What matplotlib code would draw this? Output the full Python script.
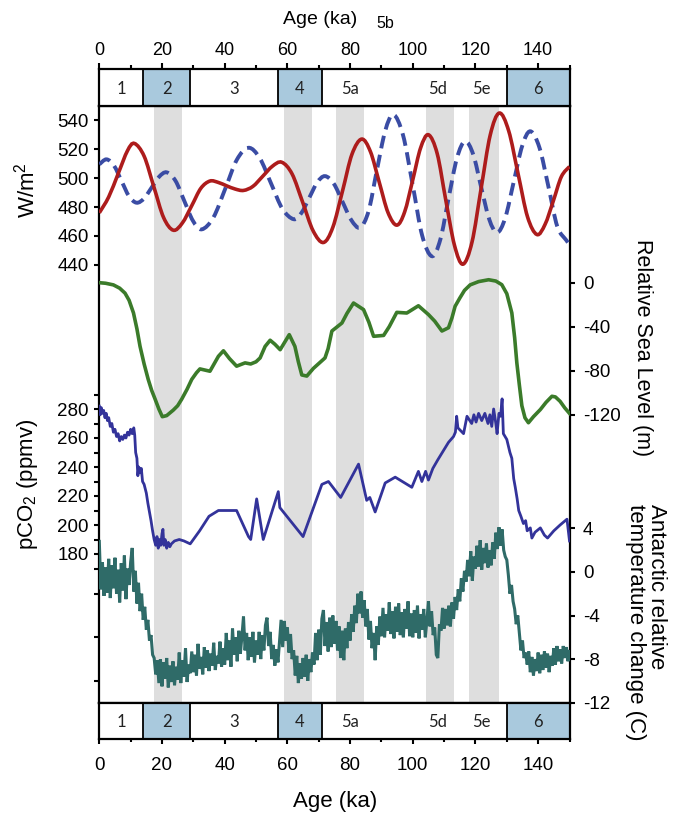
import numpy as np
import matplotlib
matplotlib.use("Agg")
import matplotlib.pyplot as plt
from matplotlib.ticker import MultipleLocator, FixedLocator
from matplotlib.path import Path
from matplotlib.patches import PathPatch

plt.rcParams['font.family'] = ['Liberation Sans', 'DejaVu Sans']
plt.rcParams['axes.unicode_minus'] = False
plt.rcParams['mathtext.fontset'] = 'custom'
plt.rcParams['mathtext.rm'] = 'Liberation Sans'
plt.rcParams['mathtext.it'] = 'Liberation Sans:italic'

# ---------------- data ----------------
# Marine isotope stages
mis_bounds = [0, 14, 29, 57, 71, 130, 150]
mis_shaded = [False, True, False, True, False, True]
mis_labels = ['1', '2', '3', '4', '5a', '5d', '5e', '6']
mis_label_age = [7, 21.5, 43, 64, 80, 108, 122, 140]

# grey bands (ka)
band_start = [17.5, 59, 75.5, 104.3, 118]
band_end = [26.5, 68, 84.5, 113.2, 127.5]

# insolation (W/m2), red solid
ins_red_age = [0, 3, 6, 9, 11.2, 14.3, 17.4, 20.5, 23.6, 26.5, 29.5, 32.4, 35.3, 38, 40.6,
               43.3, 46, 49, 52.1, 55.2, 58.2, 61.5, 64.9, 68.2, 71.5, 74.5, 77.6, 80.6,
               83.7, 86.5, 89.3, 92.1, 94.9, 97.4, 100, 102.5, 105, 107.8, 110.5, 113.3,
               116, 118.9, 121.8, 124.7, 127.6, 130.6, 133.6, 136.6, 139.6, 142.2, 144.8,
               147.4, 150]
ins_red = [476, 487, 503, 519, 524, 515.2, 494, 472.8, 464, 469, 481, 493, 498, 497, 494.7,
           492.5, 491.5, 494.3, 501.2, 508.2, 511, 502.9, 483.2, 463.6, 455.5, 466, 491.2,
           516.5, 527, 518.3, 497.2, 476.2, 467.5, 476.6, 498.8, 520.9, 530, 516.9, 485.2,
           453.6, 440.5, 455.8, 492.8, 529.7, 545, 532.7, 503, 473.3, 461, 468, 484, 501, 508]

# insolation (W/m2), blue dashed
ins_blue_age = [0, 2.3, 4.7, 7.1, 9.5, 11.9, 14.3, 16.7, 19.1, 21.5, 24.3, 27.1, 29.9, 32.7,
                36.4, 40.2, 43.9, 47.6, 51.2, 54.8, 58.4, 62, 64.5, 67, 69.5, 72, 74.8, 77.6,
                80.4, 83.2, 85.9, 88.5, 91.2, 93.8, 96.9, 100, 103, 106.1, 108.8, 111.4,
                114.1, 116.7, 119.3, 121.8, 124.4, 126.9, 129.5, 132.2, 134.9, 137.5, 140.4,
                143.3, 146.1, 149, 150]
ins_blue = [509.5, 513, 508.6, 498, 487.4, 483, 486, 493.5, 501, 504, 498.2, 484.3, 470.4,
            464.6, 472.8, 492.8, 512.8, 521, 513.8, 496.3, 478.8, 471.6, 476, 486.5, 497,
            501.4, 496.2, 483.6, 471, 465.8, 477.2, 504.9, 532.6, 544, 529.7, 495, 460.3,
            446, 457.6, 485.8, 513.9, 525.5, 516.3, 493.9, 471.5, 462.3, 472.5, 497.4, 522.2,
            532.4, 521.2, 493.9, 466.6, 457, 454]

# relative sea level (m)
sl_age = [0, 2, 4.5, 6.5, 8.2, 9.5, 10.9, 12, 13, 14.3, 15.6, 16.7, 17.8, 19, 20.1, 21.5,
          23.6, 25, 26.3, 28, 29.5, 31, 32.1, 35.3, 38, 39.6, 41.5, 43.8, 46.5, 48.3, 50,
          51.3, 52.9, 54.5, 56, 57.7, 60.6, 62.4, 63.5, 64.6, 66.2, 68.3, 72, 73, 74.2,
          77.4, 79, 81.1, 84.3, 86, 87.5, 90.7, 92.5, 94.9, 98.1, 101.8, 105, 107, 109.3,
          111.4, 112.5, 113.5, 115, 116.5, 118.3, 121, 124.2, 126.5, 128.4, 130, 131.6,
          132.5, 133.2, 134, 134.8, 135.8, 136.9, 138.5, 140.7, 142.5, 144.4, 145.5, 147,
          148.5, 150]
sea_level = [0, -0.5, -2, -5, -9.5, -16, -27.5, -42, -58, -74, -88, -98, -106, -115, -122,
             -121, -116, -112, -106, -97, -88, -82, -78.5, -80.6, -67, -62, -69, -76, -73,
             -74, -72, -68.5, -58, -52.4, -56, -61, -47.3, -58, -72, -84, -85, -78, -68.5,
             -60, -44, -36.7, -28, -18.5, -24.5, -36, -48.8, -48, -40, -27, -27.6, -21, -29,
             -35, -44, -41, -32, -21.5, -14, -7, -2, 1, 2.7, 1.5, -1.8, -10, -27.5, -50, -73,
             -93, -112, -123, -127.5, -122, -115.5, -109, -103.4, -104, -108, -114, -119]

# pCO2 (ppmv)
co2_age = [0, 0.3, 0.6, 1, 1.4, 1.8, 2.2, 2.6, 3, 3.5, 4, 4.5, 5, 5.5, 6, 6.5, 7, 7.5, 8,
           8.5, 9, 9.5, 10, 10.5, 11, 11.3, 11.6, 12, 12.3, 12.6, 13, 13.4, 13.8, 14.3, 15,
           15.5, 16, 16.5, 17, 17.5, 18, 18.4, 18.8, 19.2, 19.6, 20, 20.3, 20.6, 21, 21.5,
           22, 22.5, 23, 24, 25.5, 27, 29, 32, 35, 38, 43.8, 47.6, 48.3, 50.2, 52.3, 57.1,
           57.6, 65, 71, 73.1, 77, 82.7, 85.3, 86.3, 88, 91.2, 94.4, 99.7, 101.8, 102.9,
           104.1, 105, 106.4, 108, 111.4, 113, 113.6, 114, 114.4, 116.2, 117.3, 118.8,
           119.5, 120.2, 121, 122, 123, 124, 124.6, 125.2, 125.8, 126.5, 126.9, 127.5, 128,
           128.5, 128.9, 130, 131, 131.6, 132.2, 132.7, 133.3, 133.8, 134.5, 135.3, 136,
           136.5, 137.5, 138, 139, 140.7, 142, 143, 145, 147, 149.2, 150]
co2 = [282, 276, 281, 277, 279, 274, 277, 272, 274, 268, 270, 264, 266, 261, 263, 258, 261,
       259, 262, 260, 264, 262, 266, 263, 267, 262, 250, 246, 234, 240, 236, 239, 230, 228,
       222, 215, 209, 203, 196, 190, 186, 192, 184, 190, 186, 194, 197, 186, 190, 184, 188,
       185, 187, 189, 190, 189, 187, 196, 206, 210, 210, 192, 190, 218, 190, 223, 212, 192,
       228, 230, 219, 242, 217, 219, 209, 229, 233, 226, 237, 230, 237, 231, 239, 245, 257,
       261, 264, 275, 267, 263, 275, 270, 276, 271, 277, 272, 277, 270, 276, 268, 280, 270,
       263, 277, 275, 287, 263, 259, 250, 246, 232, 226, 218, 210, 206, 201, 203, 196, 198,
       191, 195, 198, 193, 191, 196, 200, 204, 189]

# Antarctic relative temperature change (C), every 0.5 ka from 0 to 150 ka
temp_age = np.arange(0, 150.25, 0.5)
temp = [
    2.8, -1.6, 0.9, -2.2, 0.4, -1.9, 1.2, -2.4, 0.6, -1.5,
    1.3, -2.0, 0.2, -2.8, 0.8, -1.7, 1.5, -2.5, 0.3, -1.2,
    0.9, 2.2, -1.8, 0.1, -2.9, -1.0, -3.6, -2.0, -4.4, -3.2,
    -5.3, -4.4, -6.3, -5.8, -7.6, -7.9, -9.4, -8.1, -10.2, -8.0,
    -10.5, -8.3, -9.8, -7.9, -10.6, -8.6, -10.1, -8.2, -10.4, -8.7,
    -9.9, -7.4, -10.2, -8.1, -9.6, -7.0, -10.1, -8.5, -9.3, -7.3,
    -9.2, -7.6, -9.5, -6.6, -8.9, -7.8, -9.4, -6.9, -8.8, -7.2,
    -9.1, -7.5, -8.6, -6.5, -9.0, -7.7, -8.4, -6.4, -8.7, -7.0,
    -8.5, -5.6, -8.1, -6.3, -8.7, -5.2, -7.6, -6.0, -8.2, -5.4,
    -7.5, -5.9, -4.1, -7.2, -5.6, -8.1, -6.0, -7.8, -5.5, -8.3,
    -6.3, -7.6, -5.5, -8.0, -5.8, -7.2, -4.9, -4.2, -6.8, -5.5,
    -8.0, -6.7, -8.6, -7.1, -8.3, -6.4, -4.4, -6.9, -4.5, -6.3,
    -5.1, -7.4, -5.7, -8.0, -7.2, -9.5, -7.7, -10.2, -8.4, -9.8,
    -7.9, -9.6, -7.6, -10.0, -8.0, -9.2, -7.4, -8.5, -5.6, -8.1,
    -5.3, -7.6, -4.3, -3.5, -6.8, -4.6, -7.3, -4.2, -6.9, -4.0,
    -6.6, -4.5, -7.2, -5.0, -7.9, -5.4, -8.1, -5.2, -7.0, -4.6,
    -6.3, -3.9, -5.5, -3.1, -4.7, -2.0, -3.8, -1.8, -4.2, -2.6,
    -5.0, -3.4, -6.2, -4.5, -7.0, -5.6, -8.1, -5.0, -6.7, -4.1,
    -5.9, -3.3, -6.0, -3.9, -5.4, -2.8, -5.7, -3.6, -6.1, -3.2,
    -5.5, -2.9, -5.8, -3.7, -6.0, -3.4, -5.2, -2.7, -5.9, -3.8,
    -6.0, -3.5, -5.6, -3.1, -6.1, -3.9, -5.3, -3.4, -6.0, -4.5,
    -2.7, -5.0, -3.6, -5.8, -5.1, -7.6, -7.9, -4.8, -5.4, -3.3,
    -5.2, -3.4, -4.9, -3.1, -5.0, -2.8, -4.3, -2.3, -3.5, -1.6,
    -2.7, -0.6, -1.8, 0.1, -0.9, 1.1, -0.4, 1.9, -0.8, 1.4,
    0.3, 2.4, 0.5, 2.9, 0.2, 2.2, 0.8, 2.6, 0.4, 2.0,
    0.6, 2.7, 1.2, 3.6, 2.1, 4.1, 2.4, 3.9, 2.0, 1.4,
    1.1, -0.3, -2.0, -1.2, -2.7, -3.4, -4.8, -4.0, -5.6, -7.2,
    -6.3, -7.9, -7.4, -8.5, -7.3, -9.2, -7.8, -9.5, -8.0, -9.1,
    -7.4, -9.3, -7.6, -9.0, -7.3, -8.8, -7.5, -9.2, -7.7, -8.6,
    -7.0, -8.5, -6.8, -8.2, -7.1, -8.4, -6.8, -7.9, -6.9, -8.2,
    -7.3]

ins_ticks = [440, 460, 480, 500, 520, 540]
sl_ticks = [0, -40, -80, -120]
co2_ticks = [180, 200, 220, 240, 260, 280]
temp_ticks = [4, 0, -4, -8, -12]
age_ticks = [0, 20, 40, 60, 80, 100, 120, 140]

# ---------------- layout ----------------
W, H = 673, 816
fig = plt.figure(figsize=(W / 100, H / 100), dpi=100)


def fx(px):
    return px / W


def fy(py):
    return 1 - py / H


X0, X1 = 99.3, 569.5
YT, YB = 105.7, 702.7
rect = [fx(X0), fy(YB), fx(X1) - fx(X0), fy(YT) - fy(YB)]

TICK_FS = 13.5
LABEL_FS = 16

ax0 = fig.add_axes(rect)
ax0.set_xlim(0, 150)
ax0.set_ylim(0, 1)
for a, b in zip(band_start, band_end):
    ax0.axvspan(a, b, color='#dedede', lw=0, zorder=0)
ax0.set_xticks([])
ax0.set_yticks([])
for s in ax0.spines.values():
    s.set_linewidth(1.6)


def overlay(v1, p1, v2, p2):
    ax = fig.add_axes(rect)
    ax.patch.set_alpha(0)
    slope = (v2 - v1) / (p2 - p1)
    ax.set_ylim(v1 + (YB - p1) * slope, v1 + (YT - p1) * slope)
    ax.set_xlim(0, 150)
    for s in ax.spines.values():
        s.set_visible(False)
    ax.tick_params(axis='x', which='both', bottom=False, top=False,
                   labelbottom=False, labeltop=False)
    ax.tick_params(axis='y', which='both', left=False, right=False,
                   labelleft=False, labelright=False)
    return ax


def smooth_patch(ax, x, y, **kw):
    x = np.asarray(x, float)
    y = np.asarray(y, float)
    xp = np.concatenate([[x[0]], x, [x[-1]]])
    yp = np.concatenate([[y[0]], y, [y[-1]]])
    verts = [(x[0], y[0])]
    codes = [Path.MOVETO]
    for i in range(len(x) - 1):
        p0 = np.array([xp[i], yp[i]])
        p1 = np.array([xp[i + 1], yp[i + 1]])
        p2 = np.array([xp[i + 2], yp[i + 2]])
        p3 = np.array([xp[i + 3], yp[i + 3]])
        c1 = p1 + (p2 - p0) / 6.0
        c2 = p2 - (p3 - p1) / 6.0
        verts += [tuple(c1), tuple(c2), tuple(p2)]
        codes += [Path.CURVE4] * 3
    patch = PathPatch(Path(verts, codes), fill=False, **kw)
    ax.add_patch(patch)
    return patch


TL = 3.6
TW = 1.5

# insolation
ax_ins = overlay(540, 120.3, 440, 264.9)
smooth_patch(ax_ins, ins_blue_age, ins_blue, edgecolor='#3a4ca4', lw=2.8,
             linestyle=(0, (3.3, 1.7)), capstyle='butt')
smooth_patch(ax_ins, ins_red_age, ins_red, edgecolor='#ad1c1c', lw=2.6)
ax_ins.set_yticks(ins_ticks)
ax_ins.tick_params(axis='y', left=True, labelleft=True, length=TL, width=TW,
                   labelsize=TICK_FS, pad=4)

# sea level
ax_sl = overlay(0, 282.7, -120, 414.5)
ax_sl.plot(sl_age, sea_level, color='#3b7b2a', lw=2.6, solid_joinstyle='round')
ax_sl.set_yticks(sl_ticks)
ax_sl.yaxis.set_ticks_position('right')
ax_sl.tick_params(axis='y', right=True, labelright=True, left=False, labelleft=False,
                  length=TL, width=TW, labelsize=TICK_FS, pad=6)

# CO2
ax_co2 = overlay(280, 409, 180, 554)
ax_co2.plot(co2_age, co2, color='#33339a', lw=2.0, solid_joinstyle='round')
ax_co2.set_yticks(co2_ticks)
ax_co2.yaxis.set_minor_locator(FixedLocator([170, 190, 210, 230, 250, 270, 290]))
ax_co2.tick_params(axis='y', which='both', left=True, labelleft=True, length=TL, width=TW,
                   labelsize=TICK_FS, pad=4)

# temperature
ax_t = overlay(4, 528.3, -12, 702.7)
ax_t.plot(temp_age, temp, color='#2f6b68', lw=2.2, solid_joinstyle='miter')
ax_t.set_yticks(temp_ticks)
ax_t.yaxis.set_ticks_position('right')
ax_t.tick_params(axis='y', right=True, labelright=True, left=False, labelleft=False,
                 length=TL, width=TW, labelsize=TICK_FS, pad=6)
sec = ax_t.secondary_yaxis('left')
sec.spines['left'].set_visible(False)
sec.set_yticks([-2, -6, -10])
sec.tick_params(axis='y', length=TL, width=TW, labelleft=False)

# ---------------- MIS boxes ----------------


def mis_box(y_top_px, y_bot_px, where):
    ax = fig.add_axes([fx(X0), fy(y_bot_px), fx(X1) - fx(X0), fy(y_top_px) - fy(y_bot_px)])
    ax.set_xlim(0, 150)
    ax.set_ylim(0, 1)
    for a, b, sh in zip(mis_bounds[:-1], mis_bounds[1:], mis_shaded):
        if sh:
            ax.axvspan(a, b, color='#a9c9dd', lw=0)
    for b in mis_bounds[1:-1]:
        ax.axvline(b, color='black', lw=1.3)
    for lab, pos in zip(mis_labels, mis_label_age):
        ax.text(pos, 0.47, lab, ha='center', va='center', fontsize=12,
                family=['Lato', 'DejaVu Sans'], color='#222222')
    for s in ax.spines.values():
        s.set_linewidth(1.6)
    ax.set_yticks([])
    ax.set_xticks(age_ticks)
    ax.xaxis.set_minor_locator(FixedLocator([10, 30, 50, 70, 90, 110, 130, 150]))
    if where == 'top':
        ax.xaxis.set_ticks_position('top')
        ax.tick_params(axis='x', which='major', top=True, bottom=False, labeltop=True,
                       labelbottom=False, length=4.5, width=TW, labelsize=13, pad=3)
        ax.tick_params(axis='x', which='minor', top=True, bottom=False, length=2.8, width=TW)
    else:
        ax.xaxis.set_ticks_position('bottom')
        ax.tick_params(axis='x', which='major', bottom=True, top=False, labelbottom=True,
                       length=3.5, width=TW, labelsize=TICK_FS, pad=9)
        ax.tick_params(axis='x', which='minor', bottom=True, top=False, length=2.5, width=TW)
    return ax


mis_box(69.3, YT, 'top')
mis_box(YB, 739.3, 'bottom')

# ---------------- labels ----------------
fig.text(fx(320), fy(20), 'Age (ka)', ha='center', va='center', fontsize=14)
fig.text(fx(385), fy(23), '5b', ha='center', va='center', fontsize=11.5)
fig.text(fx(335), fy(802), 'Age (ka)', ha='center', va='center', fontsize=LABEL_FS)
fig.text(fx(27), fy(190), 'W/m$^2$', ha='center', va='center', rotation=90,
         fontsize=LABEL_FS)
fig.text(fx(27), fy(484), 'pCO$_2$ (ppmv)', ha='center', va='center', rotation=90,
         fontsize=LABEL_FS)
fig.text(fx(643), fy(348), 'Relative Sea Level (m)', ha='center', va='center',
         rotation=270, fontsize=15.5)
fig.text(fx(646), fy(504), 'Antarctic relative\ntemperature change (C)', ha='center',
         va='top', rotation=270, multialignment='left', fontsize=LABEL_FS, linespacing=1.0)

fig.savefig('out.png', dpi=100)
